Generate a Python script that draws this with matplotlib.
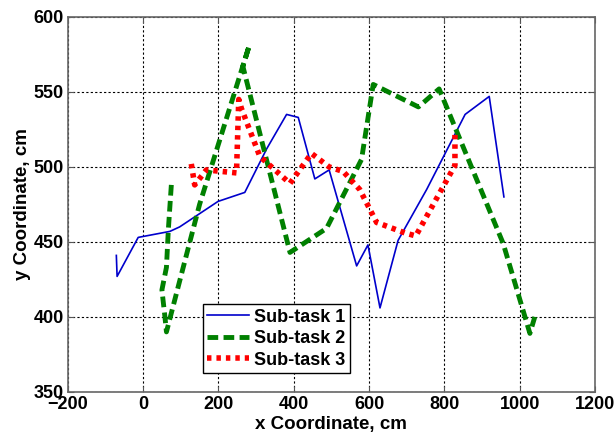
import numpy as np
import matplotlib
matplotlib.use('Agg')
import matplotlib.pyplot as plt

# Sub-task 1 (blue, solid)
x1 = [-71, -69, -13, 71, 97, 199, 270, 328, 381, 412, 456, 494, 567, 597, 629, 677, 753, 855, 919, 958]
y1 = [441, 427, 453, 457, 460, 477, 483, 512, 535, 533, 492, 498, 434, 448, 406, 451, 485, 535, 547, 480]

# Sub-task 2 (green, dashed)
x2 = [75, 67, 62, 50, 58, 62, 150, 282, 265, 390, 487, 580, 611, 731, 786, 956, 1027, 1040]
y2 = [488, 458, 433, 418, 400, 390, 475, 581, 567, 443, 459, 505, 555, 540, 552, 449, 389, 400]

# Sub-task 3 (red, dotted)
x3 = [128, 137, 168, 248, 254, 261, 310, 390, 447, 494, 531, 575, 620, 695, 724, 828, 828]
y3 = [502, 488, 498, 496, 545, 539, 507, 489, 509, 500, 497, 485, 463, 456, 454, 501, 522]

xticks = [-200, 0, 200, 400, 600, 800, 1000, 1200]
yticks = [350, 400, 450, 500, 550, 600]

plt.rcParams['font.family'] = ['Liberation Sans', 'DejaVu Sans']
plt.rcParams['font.weight'] = 'bold'

fig = plt.figure(figsize=(6.16, 4.34), dpi=100)
ax = fig.add_axes([0.110, 0.097, 0.856, 0.864])

ax.plot(x1, y1, color='#0000cc', linewidth=1.2, label='Sub-task 1')
ax.plot(x2, y2, color='#008000', linewidth=3.5, linestyle=(0, (2.2, 1.1)), label='Sub-task 2')
ax.plot(x3, y3, color='#ff0000', linewidth=4, linestyle=(0, (0.8, 0.9)), label='Sub-task 3')

ax.set_xlim(-200, 1200)
ax.set_ylim(350, 600)
ax.set_xticks(xticks)
ax.set_yticks(yticks)
ax.tick_params(direction='in', length=4, labelsize=13, top=True, right=True, color='#555555')
ax.tick_params(axis='x', pad=3)
ax.tick_params(axis='y', pad=3)
for lab in ax.get_xticklabels() + ax.get_yticklabels():
    lab.set_fontweight('bold')
ax.grid(True, color='black', linestyle=(0, (2, 2)), linewidth=0.8)
for s in ax.spines.values():
    s.set_color('#666666')
    s.set_linewidth(1.2)

ax.set_xlabel('x Coordinate, cm', fontsize=13.5, fontweight='bold', labelpad=2)
ax.set_ylabel('y Coordinate, cm', fontsize=13.5, fontweight='bold', labelpad=2)

leg = ax.legend(loc='lower left', bbox_to_anchor=(0.256, 0.05), fontsize=13, frameon=True,
                fancybox=False, edgecolor='black', framealpha=1, handlelength=2.3,
                borderpad=0.25, labelspacing=0.25, handletextpad=0.3, borderaxespad=0)
leg.get_frame().set_linewidth(1.0)
for t in leg.get_texts():
    t.set_fontweight('bold')

fig.savefig('out.png', dpi=100)
